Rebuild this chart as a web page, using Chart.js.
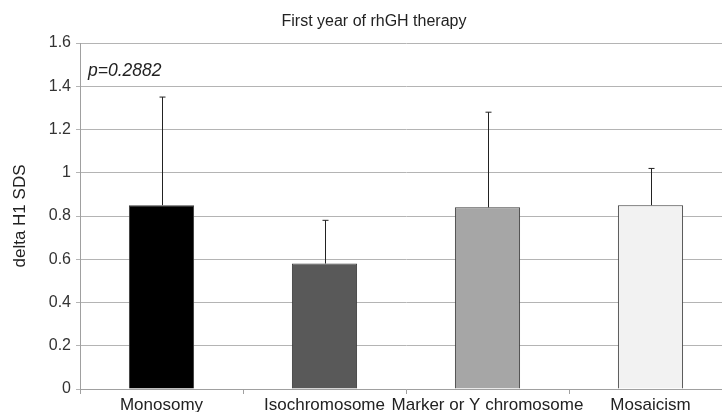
<!DOCTYPE html>
<html lang="en">
  <head>
    <meta charset="UTF-8" />
    <title>First year of rhGH therapy</title>
    <script src="https://cdn.jsdelivr.net/npm/chart.js"></script>
    <style>
      html, body {
        margin: 0;
        padding: 0;
        background: #fff;
        overflow: hidden;
      }
      .wrap {
        width: 722px;
        height: 412px;
        overflow: hidden;
      }
      .inner {
        width: 740px;
        height: 412px;
      }
    </style>
  </head>
  <body>
    <div class="wrap">
      <div class="inner">
        <canvas id="chart" width="740" height="412"></canvas>
      </div>
    </div>

    <script>
      // data
      const categories = ["Monosomy", "Isochromosome", "Marker or Y chromosome", "Mosaicism"];
      const means = [0.85, 0.58, 0.84, 0.85];
      const upperErr = [1.35, 0.78, 1.28, 1.02];
      const barColors = ["#000000", "#595959", "#a6a6a6", "#f2f2f2"];
      const pText = "p=0.2882";
      const titleText = "First year of rhGH therapy";

      const font = "'Liberation Sans', Arial, sans-serif";

      // upper error whiskers + title + p value
      const extras = {
        id: "extras",
        afterDatasetsDraw(chart) {
          const ctx = chart.ctx;
          const meta = chart.getDatasetMeta(0);
          const y = chart.scales.y;
          ctx.save();
          ctx.strokeStyle = "#222";
          ctx.lineWidth = 1;
          meta.data.forEach((bar, i) => {
            const x = Math.round(bar.x) + 0.5;
            const yTop = y.getPixelForValue(upperErr[i]);
            ctx.beginPath();
            ctx.moveTo(x, bar.y);
            ctx.lineTo(x, yTop);
            ctx.moveTo(x - 3, yTop);
            ctx.lineTo(x + 3, yTop);
            ctx.stroke();
          });
          ctx.fillStyle = "#222";
          ctx.font = "italic 17.5px " + font;
          ctx.textBaseline = "middle";
          ctx.textAlign = "left";
          ctx.fillText(pText, chart.chartArea.left + 8, y.getPixelForValue(1.47));
          ctx.font = "16px " + font;
          ctx.textAlign = "center";
          ctx.fillText(titleText, 374, 22);
          ctx.restore();
        },
      };

      new Chart(document.getElementById("chart"), {
        type: "bar",
        data: {
          labels: categories,
          datasets: [
            {
              data: means,
              backgroundColor: barColors,
              borderColor: "#3a3a3a",
              borderWidth: 1,
              barPercentage: 0.4,
              categoryPercentage: 1.0,
            },
          ],
        },
        options: {
          responsive: false,
          animation: false,
          layout: { padding: { top: 43, right: 8, left: 0, bottom: 0 } },
          plugins: {
            legend: { display: false },
            tooltip: { enabled: false },
          },
          scales: {
            x: {
              grid: {
                drawOnChartArea: false,
                offset: true,
                tickLength: 5,
                color: "#a0a0a0",
              },
              border: { color: "#a0a0a0" },
              ticks: {
                color: "#222",
                font: { family: font, size: 17 },
                padding: 1,
                maxRotation: 0,
                autoSkip: false,
              },
              afterFit(scale) {
                scale.height = 23;
              },
            },
            y: {
              min: 0,
              max: 1.6,
              ticks: {
                stepSize: 0.2,
                color: "#333",
                font: { family: font, size: 16 },
                padding: 5,
                callback: (v) => (Math.round(v * 10) / 10).toString(),
              },
              grid: { color: "#b4b4b4", tickLength: 4 },
              border: { color: "#a0a0a0" },
              title: {
                display: true,
                text: "delta H1 SDS",
                color: "#222",
                font: { family: font, size: 17 },
                padding: { top: 10, bottom: 0 },
              },
              afterFit(scale) {
                scale.width = 80;
              },
            },
          },
        },
        plugins: [extras],
      });
    </script>
  </body>
</html>
